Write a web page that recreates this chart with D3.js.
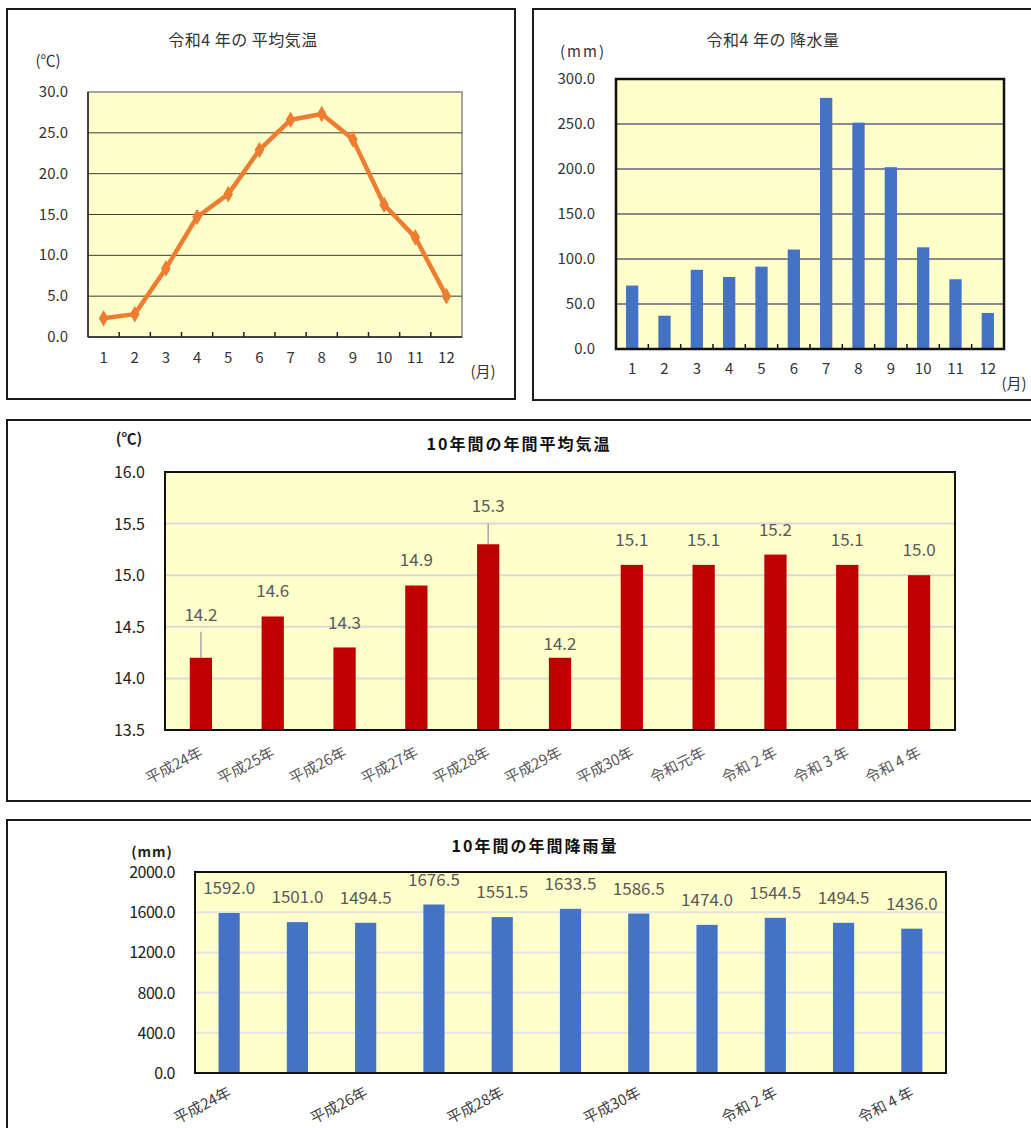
<!DOCTYPE html>
<html>
<head>
<meta charset="utf-8">
<script src="https://cdn.jsdelivr.net/npm/d3@7"></script>
<style>
  body { margin: 0; background: #fff; }
  svg { display: block; font-family: "Noto Sans CJK JP", "Noto Sans", sans-serif; }
</style>
</head>
<body>
<div id="Area"></div>
<script>
// monthly data, Reiwa 4
var months = ["1", "2", "3", "4", "5", "6", "7", "8", "9", "10", "11", "12"];
var monthTemp = [2.3, 2.8, 8.4, 14.7, 17.5, 22.9, 26.6, 27.3, 24.2, 16.2, 12.2, 5.0];
var monthRain = [70.5, 37.0, 88.0, 80.0, 91.5, 110.5, 279.0, 251.5, 202.0, 113.0, 77.5, 40.0];
var tempTicks = [0, 5, 10, 15, 20, 25, 30];
var rainTicks = [0, 50, 100, 150, 200, 250, 300];

// ten year data
var years = ["平成24年", "平成25年", "平成26年", "平成27年", "平成28年", "平成29年",
  "平成30年", "令和元年", "令和２年", "令和３年", "令和４年"];
var yearLabels = ["平成24年", "平成25年", "平成26年", "平成27年", "平成28年", "平成29年",
  "平成30年", "令和元年", "令和 2 年", "令和 3 年", "令和 4 年"];
var yearTemp = [14.2, 14.6, 14.3, 14.9, 15.3, 14.2, 15.1, 15.1, 15.2, 15.1, 15.0];
var yearRain = [1592.0, 1501.0, 1494.5, 1676.5, 1551.5, 1633.5, 1586.5, 1474.0, 1544.5, 1494.5, 1436.0];
var yearTempTicks = [13.5, 14.0, 14.5, 15.0, 15.5, 16.0];
var yearRainTicks = [0, 400, 800, 1200, 1600, 2000];

// label nudges (px above bar top) for the ten-year temperature chart
var tempLabelRise = [43, 25, 24, 26, 38, 14, 25, 25, 25, 25, 25];

var svg = d3.select("#Area").append("svg")
  .attr("width", 1031)
  .attr("height", 1128);

// panel frames
function frame(x, y, w, h) {
  svg.append("rect")
    .attr("x", x).attr("y", y).attr("width", w).attr("height", h)
    .attr("fill", "#fff").attr("stroke", "#1a1a1a").attr("stroke-width", 2);
}
frame(7, 9, 508, 390);
frame(533, 9, 600, 391);
frame(7, 420, 1100, 381);
frame(7, 820, 1100, 400);

var bg = "#FFFFCC";
var txt = "#333";

// ---------- chart 1: monthly temperature line ----------
var g1 = svg.append("g").attr("transform", "translate(88,92)");
var w1 = 374, h1 = 245;
var x1 = d3.scaleBand().domain(months).range([0, w1]);
var y1 = d3.scaleLinear().domain([0, 30]).range([h1, 0]);

g1.append("rect").attr("width", w1).attr("height", h1).attr("fill", bg)
  .attr("stroke", "#888").attr("stroke-width", 1.5);
g1.selectAll(".grid").data(tempTicks.slice(1, -1)).enter().append("line")
  .attr("x1", 0).attr("x2", w1)
  .attr("y1", function (d) { return y1(d); }).attr("y2", function (d) { return y1(d); })
  .attr("stroke", "#3a3a3a").attr("stroke-width", 1);
// axis lines
g1.append("line").attr("x1", 0).attr("x2", 0).attr("y1", 0).attr("y2", h1)
  .attr("stroke", "#222").attr("stroke-width", 1.5);
g1.append("line").attr("x1", 0).attr("x2", w1).attr("y1", h1).attr("y2", h1)
  .attr("stroke", "#222").attr("stroke-width", 1.5);
g1.selectAll(".tk").data(months.slice(1)).enter().append("line")
  .attr("x1", function (d) { return x1(d); }).attr("x2", function (d) { return x1(d); })
  .attr("y1", h1).attr("y2", h1 - 5).attr("stroke", "#222").attr("stroke-width", 1.5);
g1.selectAll(".yl").data(tempTicks).enter().append("text")
  .attr("x", -20).attr("y", function (d) { return y1(d) + 5; })
  .attr("text-anchor", "end").attr("font-size", 15).attr("fill", txt)
  .text(function (d) { return d.toFixed(1); });
g1.selectAll(".xl").data(months).enter().append("text")
  .attr("x", function (d) { return x1(d) + x1.bandwidth() / 2; }).attr("y", h1 + 26)
  .attr("text-anchor", "middle").attr("font-size", 15).attr("fill", txt)
  .text(function (d) { return d; });

var line1 = d3.line()
  .x(function (d, i) { return x1(months[i]) + x1.bandwidth() / 2; })
  .y(function (d) { return y1(d); });
g1.append("path").datum(monthTemp).attr("d", line1)
  .attr("fill", "none").attr("stroke", "#ED7D31").attr("stroke-width", 4.5)
  .attr("stroke-linejoin", "round");
g1.selectAll(".mk").data(monthTemp).enter().append("path")
  .attr("d", d3.symbol().type(d3.symbolDiamond).size(80))
  .attr("transform", function (d, i) {
    return "translate(" + (x1(months[i]) + x1.bandwidth() / 2) + "," + y1(d) + ")";
  })
  .attr("fill", "#ED7D31");

svg.append("text").attr("x", 243).attr("y", 46).attr("text-anchor", "middle")
  .attr("font-size", 16).attr("letter-spacing", 0.5).attr("fill", txt).text("令和4 年の 平均気温");
svg.append("text").attr("x", 48).attr("y", 66).attr("text-anchor", "middle")
  .attr("font-size", 15).attr("fill", txt).text("(℃)");
svg.append("text").attr("x", 483).attr("y", 377).attr("text-anchor", "middle")
  .attr("font-size", 15).attr("fill", txt).text("(月)");

// ---------- chart 2: monthly rainfall bars ----------
var g2 = svg.append("g").attr("transform", "translate(616,79)");
var w2 = 388, h2 = 270;
var x2 = d3.scaleBand().domain(months).range([0, w2]).paddingInner(0.62).paddingOuter(0.31);
var x2t = d3.scaleBand().domain(months).range([0, w2]);
var y2 = d3.scaleLinear().domain([0, 300]).range([h2, 0]);

g2.append("rect").attr("width", w2).attr("height", h2).attr("fill", bg);
g2.selectAll(".grid").data(rainTicks.slice(1, -1)).enter().append("line")
  .attr("x1", 0).attr("x2", w2)
  .attr("y1", function (d) { return y2(d); }).attr("y2", function (d) { return y2(d); })
  .attr("stroke", "#8a8a8a").attr("stroke-width", 2);
g2.selectAll(".bar").data(monthRain).enter().append("rect")
  .attr("x", function (d, i) { return x2(months[i]); })
  .attr("y", function (d) { return y2(d); })
  .attr("width", x2.bandwidth())
  .attr("height", function (d) { return h2 - y2(d); })
  .attr("fill", "#4472C4");
g2.selectAll(".tk").data(months.slice(1)).enter().append("line")
  .attr("x1", function (d) { return x2t(d); }).attr("x2", function (d) { return x2t(d); })
  .attr("y1", h2).attr("y2", h2 - 5).attr("stroke", "#111").attr("stroke-width", 1.5);
g2.append("rect").attr("width", w2).attr("height", h2).attr("fill", "none")
  .attr("stroke", "#111").attr("stroke-width", 2.5);
g2.selectAll(".yl").data(rainTicks).enter().append("text")
  .attr("x", -21).attr("y", function (d) { return y2(d) + 5; })
  .attr("text-anchor", "end").attr("font-size", 15).attr("fill", txt)
  .text(function (d) { return d.toFixed(1); });
g2.selectAll(".xl").data(months).enter().append("text")
  .attr("x", function (d) { return x2t(d) + x2t.bandwidth() / 2; }).attr("y", h2 + 25)
  .attr("text-anchor", "middle").attr("font-size", 15).attr("fill", txt)
  .text(function (d) { return d; });

svg.append("text").attr("x", 773).attr("y", 46).attr("text-anchor", "middle")
  .attr("font-size", 16).attr("letter-spacing", 0.5).attr("fill", txt).text("令和4 年の 降水量");
svg.append("text").attr("x", 583).attr("y", 57).attr("text-anchor", "middle")
  .attr("font-size", 15).attr("letter-spacing", 2).attr("fill", txt).text("(mm)");
svg.append("text").attr("x", 1014).attr("y", 389).attr("text-anchor", "middle")
  .attr("font-size", 15).attr("fill", txt).text("(月)");

// ---------- chart 3: ten-year average temperature ----------
var g3 = svg.append("g").attr("transform", "translate(165,472)");
var w3 = 790, h3 = 258;
var x3 = d3.scaleBand().domain(years).range([0, w3]).paddingInner(0.69).paddingOuter(0.345);
var x3t = d3.scaleBand().domain(years).range([0, w3]);
var y3 = d3.scaleLinear().domain([13.5, 16.0]).range([h3, 0]);

g3.append("rect").attr("width", w3).attr("height", h3).attr("fill", bg);
g3.selectAll(".grid").data(yearTempTicks.slice(1, -1)).enter().append("line")
  .attr("x1", 0).attr("x2", w3)
  .attr("y1", function (d) { return y3(d); }).attr("y2", function (d) { return y3(d); })
  .attr("stroke", "#d9d9d9").attr("stroke-width", 2);
g3.selectAll(".bar").data(yearTemp).enter().append("rect")
  .attr("x", function (d, i) { return x3(years[i]); })
  .attr("y", function (d) { return y3(d); })
  .attr("width", x3.bandwidth())
  .attr("height", function (d) { return h3 - y3(d); })
  .attr("fill", "#C00000");
// leader lines where labels sit far from the bar
years.forEach(function (yr, i) {
  if (tempLabelRise[i] <= 30) return;
  var cx = x3t(yr) + x3t.bandwidth() / 2;
  g3.append("line")
    .attr("x1", cx).attr("x2", cx)
    .attr("y1", y3(yearTemp[i]))
    .attr("y2", y3(yearTemp[i]) - tempLabelRise[i] + 17)
    .attr("stroke", "#a6a6a6").attr("stroke-width", 1.5);
});
g3.selectAll(".vl").data(yearTemp).enter().append("text")
  .attr("x", function (d, i) { return x3t(years[i]) + x3t.bandwidth() / 2; })
  .attr("y", function (d, i) { return y3(d) - tempLabelRise[i] + 6; })
  .attr("text-anchor", "middle").attr("font-size", 17).attr("fill", "#595959")
  .text(function (d) { return d.toFixed(1); });
g3.append("rect").attr("width", w3).attr("height", h3).attr("fill", "none")
  .attr("stroke", "#111").attr("stroke-width", 2);
g3.selectAll(".yl").data(yearTempTicks).enter().append("text")
  .attr("x", -20).attr("y", function (d) { return y3(d) + 6; })
  .attr("text-anchor", "end").attr("font-size", 16).attr("fill", "#222")
  .text(function (d) { return d.toFixed(1); });
g3.selectAll(".xl").data(years).enter().append("text")
  .attr("transform", function (d) {
    return "translate(" + (x3t(d) + x3t.bandwidth() / 2 + 3) + "," + (h3 + 26) + ")rotate(-27)";
  })
  .attr("text-anchor", "end").attr("font-size", 15).attr("fill", "#595959")
  .text(function (d, i) { return yearLabels[i]; });

svg.append("text").attr("x", 519).attr("y", 450).attr("text-anchor", "middle")
  .attr("font-size", 16).attr("letter-spacing", 2).attr("font-weight", "bold").attr("fill", "#111")
  .text("10年間の年間平均気温");
svg.append("text").attr("x", 129).attr("y", 444).attr("text-anchor", "middle")
  .attr("font-size", 15).attr("font-weight", "bold").attr("fill", "#222").text("(℃)");

// ---------- chart 4: ten-year rainfall ----------
var g4 = svg.append("g").attr("transform", "translate(195,872)");
var w4 = 751, h4 = 201;
var x4 = d3.scaleBand().domain(years).range([0, w4]).paddingInner(0.69).paddingOuter(0.345);
var x4t = d3.scaleBand().domain(years).range([0, w4]);
var y4 = d3.scaleLinear().domain([0, 2000]).range([h4, 0]);

g4.append("rect").attr("width", w4).attr("height", h4).attr("fill", bg);
g4.selectAll(".grid").data(yearRainTicks.slice(1, -1)).enter().append("line")
  .attr("x1", 0).attr("x2", w4)
  .attr("y1", function (d) { return y4(d); }).attr("y2", function (d) { return y4(d); })
  .attr("stroke", "#e3e3e3").attr("stroke-width", 2);
g4.selectAll(".bar").data(yearRain).enter().append("rect")
  .attr("x", function (d, i) { return x4(years[i]); })
  .attr("y", function (d) { return y4(d); })
  .attr("width", x4.bandwidth())
  .attr("height", function (d) { return h4 - y4(d); })
  .attr("fill", "#4472C4");
g4.append("rect").attr("width", w4).attr("height", h4).attr("fill", "none")
  .attr("stroke", "#111").attr("stroke-width", 2);
g4.selectAll(".vl").data(yearRain).enter().append("text")
  .attr("x", function (d, i) { return x4t(years[i]) + x4t.bandwidth() / 2; })
  .attr("y", function (d) { return y4(d) - 19; })
  .attr("text-anchor", "middle").attr("font-size", 17).attr("fill", "#595959")
  .text(function (d) { return d.toFixed(1); });
g4.selectAll(".yl").data(yearRainTicks).enter().append("text")
  .attr("x", -20).attr("y", function (d) { return y4(d) + 6; })
  .attr("text-anchor", "end").attr("font-size", 16).attr("fill", "#222")
  .attr("letter-spacing", -0.5)
  .text(function (d) { return d.toFixed(1); });
g4.selectAll(".xl").data(years.filter(function (d, i) { return i % 2 === 0; })).enter().append("text")
  .attr("transform", function (d) {
    return "translate(" + (x4t(d) + x4t.bandwidth() / 2 + 3) + "," + (h4 + 23) + ")rotate(-27)";
  })
  .attr("text-anchor", "end").attr("font-size", 15).attr("fill", "#404040")
  .text(function (d) { return yearLabels[years.indexOf(d)]; });

svg.append("text").attr("x", 535).attr("y", 852).attr("text-anchor", "middle")
  .attr("font-size", 16).attr("letter-spacing", 2).attr("font-weight", "bold").attr("fill", "#111")
  .text("10年間の年間降雨量");
svg.append("text").attr("x", 152).attr("y", 857).attr("text-anchor", "middle")
  .attr("font-size", 14).attr("letter-spacing", 1).attr("font-weight", "bold").attr("fill", "#222").text("(mm)");
</script>
</body>
</html>
